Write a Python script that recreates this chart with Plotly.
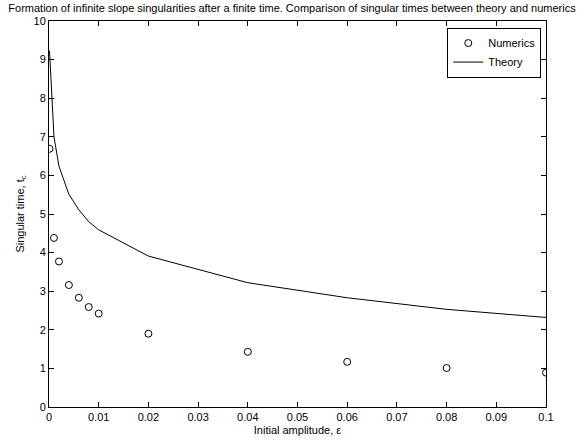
import plotly.graph_objects as go

eps_num = [0.0001, 0.001, 0.002, 0.004, 0.006, 0.008, 0.01, 0.02, 0.04, 0.06, 0.08, 0.1]
tc_num = [6.69, 4.38, 3.77, 3.16, 2.83, 2.59, 2.42, 1.90, 1.43, 1.17, 1.01, 0.89]

eps_th = [0.0001, 0.001, 0.002, 0.004, 0.006, 0.008, 0.01, 0.02, 0.04, 0.06, 0.08, 0.1]
tc_th = [9.23, 7.0, 6.24, 5.51, 5.11, 4.80, 4.59, 3.91, 3.22, 2.83, 2.53, 2.32]

x_ticks = [0, 0.01, 0.02, 0.03, 0.04, 0.05, 0.06, 0.07, 0.08, 0.09, 0.1]
x_ticklabels = ["0", "0.01", "0.02", "0.03", "0.04", "0.05", "0.06", "0.07", "0.08", "0.09", "0.1"]
y_ticks = list(range(0, 11))

font_family = "Liberation Sans, Arial, Helvetica, sans-serif"

fig = go.Figure()
fig.add_trace(go.Scatter(
    x=eps_num, y=tc_num, mode="markers", name="Numerics",
    marker=dict(symbol="circle-open", size=7, color="black", line=dict(width=1, color="black")),
))
fig.add_trace(go.Scatter(
    x=eps_th, y=tc_th, mode="lines", name="Theory",
    line=dict(color="black", width=1),
))

axis_common = dict(
    showline=True, linecolor="black", linewidth=1, mirror="ticks",
    ticks="inside", ticklen=5, tickwidth=1, tickcolor="black",
    showgrid=False, zeroline=False,
    tickfont=dict(family=font_family, size=11, color="black"),
)

fig.update_layout(
    width=584, height=447,
    margin=dict(l=49, r=38, t=21, b=36),
    paper_bgcolor="white", plot_bgcolor="white",
    font=dict(family=font_family, size=11, color="black"),
    title=dict(
        text="Formation of infinite slope singularities after a finite time. Comparison of singular times between theory and numerics",
        x=0.5, xanchor="center", y=1 - 8 / 447, yanchor="middle", yref="container",
        font=dict(family=font_family, size=11, color="black"),
    ),
    xaxis=dict(
        range=[0, 0.1], tickvals=x_ticks, ticktext=x_ticklabels,
        title=dict(text="Initial amplitude, ε", standoff=4, font=dict(size=11)),
        **axis_common,
    ),
    yaxis=dict(
        range=[0, 10], tickvals=y_ticks,
        title=dict(text="Singular time, t<sub>c</sub>", standoff=6, font=dict(size=11)),
        **axis_common,
    ),
    legend=dict(
        x=0.9905, y=0.983, xanchor="right", yanchor="top",
        bordercolor="black", borderwidth=1, bgcolor="white",
        font=dict(family=font_family, size=11, color="black"),
        tracegroupgap=0, itemwidth=30,
    ),
    showlegend=True,
)

fig.write_html("out.html")
